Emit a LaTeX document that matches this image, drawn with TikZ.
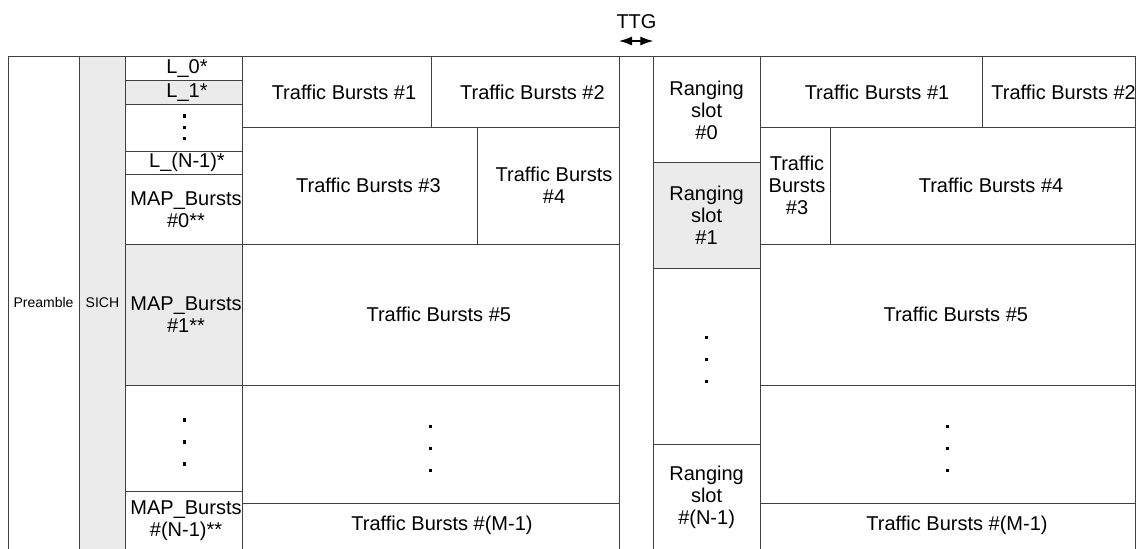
\documentclass[tikz,border=0pt]{standalone}
\usepackage{fontspec}
\setmainfont{Liberation Sans}
\usetikzlibrary{arrows.meta}

\begin{document}
\begin{tikzpicture}[x=1pt, y=-1pt,
  frame/.style={draw=black!75, line width=0.5pt},
  shade/.style={frame, fill=black!8},
  txt/.style={align=center, inner sep=0pt, font=\fontsize{10}{11}\selectfont},
  small/.style={txt, font=\fontsize{7}{8}\selectfont}]

\useasboundingbox (0,0) rectangle (572,274);

% frame columns
\draw[frame] (4,28.35) rectangle (39.5,278);
\draw[shade] (39.5,28.35) rectangle (62.85,278);

% downlink cells
\foreach \xa/\ya/\xb/\yb in {62.85/28.35/121.35/40.15, 62.85/52.15/121.35/75.5,
  62.85/75.5/121.35/87.35, 62.85/87.35/121.35/122.35, 62.85/192.5/121.35/245.5,
  62.85/245.5/121.35/278,
  121.35/28.35/215.5/63.75, 215.5/28.35/309.5/63.75, 121.35/63.75/238.85/122.35,
  238.85/63.75/309.5/122.35, 121.35/122.35/309.5/192.5, 121.35/192.5/309.5/251.5,
  121.35/251.5/309.5/278}
  \draw[frame] (\xa,\ya) rectangle (\xb,\yb);
\draw[shade] (62.85,40.15) rectangle (121.35,52.15);
\draw[shade] (62.85,122.35) rectangle (121.35,192.5);

% gap
\draw[frame] (309.5,28.35) rectangle (326.65,278);

% uplink cells
\foreach \xa/\ya/\xb/\yb in {326.65/28.35/380/81.35, 326.65/134.15/380/222.15,
  326.65/222.15/380/278,
  380/28.35/491.35/63.75, 491.35/28.35/567.85/63.75, 380/63.75/415/122.35,
  415/63.75/567.85/122.35, 380/122.35/567.85/192.5, 380/192.5/567.85/251.5,
  380/251.5/567.85/278}
  \draw[frame] (\xa,\ya) rectangle (\xb,\yb);
\draw[shade] (326.65,81.35) rectangle (380,134.15);

% dots
\foreach \x/\y/\d in {92.1/63.65/5.7, 92.1/221/11, 215.4/224.3/11,
  353.3/179.9/11, 473.9/224.3/11}
  \foreach \k in {-1,0,1}
    \fill (\x-0.8,\y+\k*\d-0.8) rectangle ++(1.6,1.6);

% TTG
\node (ttg) [txt] at (318.25,10.8) {TTG};
\coordinate (ttgl) at (309.5,20.5);
\coordinate (ttgr) at (326.65,20.5);
\draw[{Latex[length=6.5pt,width=4.5pt]}-{Latex[length=6.5pt,width=4.5pt]}, line width=0.6pt] (ttgl) -- (ttgr);

% labels
\node (preamble) [small] at (21.75,151.2) {Preamble};
\node (sich) [small] at (51.2,151.2) {SICH};
\node (l0) [txt] at (93.5,34.4) {L\_0*};
\node (l1) [txt] at (93.5,46.15) {L\_1*};
\node (lN) [txt] at (93.5,81.4) {L\_(N-1)*};
\node (map0) [txt] at (93,104.85) {MAP\_Bursts\\\#0**};
\node (map1) [txt] at (93,157.4) {MAP\_Bursts\\\#1**};
\node (mapN) [txt] at (93,260.5) {MAP\_Bursts\\\#(N-1)**};

\node (dtb1) [txt] at (172,46) {Traffic Bursts \#1};
\node (dtb2) [txt] at (266.2,46) {Traffic Bursts \#2};
\node (dtb3) [txt] at (184.2,92.8) {Traffic Bursts \#3};
\node (dtb4) [txt] at (277,92.8) {Traffic Bursts\\\#4};
\node (dtb5) [txt] at (219.4,157.4) {Traffic Bursts \#5};
\node (dtbM) [txt] at (221,262.6) {Traffic Bursts \#(M-1)};

\node (rs0) [txt] at (353.3,55) {Ranging\\slot\\\#0};
\node (rs1) [txt] at (353.3,107.75) {Ranging\\slot\\\#1};
\node (rsN) [txt] at (353.3,248.5) {Ranging\\slot\\\#(N-1)};

\node (utb1) [txt] at (438.5,46) {Traffic Bursts \#1};
\node (utb2) [txt] at (531.8,46) {Traffic Bursts \#2};
\node (utb3) [txt] at (398.5,92.8) {Traffic\\Bursts\\\#3};
\node (utb4) [txt] at (495.5,92.8) {Traffic Bursts \#4};
\node (utb5) [txt] at (477.9,157.4) {Traffic Bursts \#5};
\node (utbM) [txt] at (478.5,262.6) {Traffic Bursts \#(M-1)};

\end{tikzpicture}
\end{document}
